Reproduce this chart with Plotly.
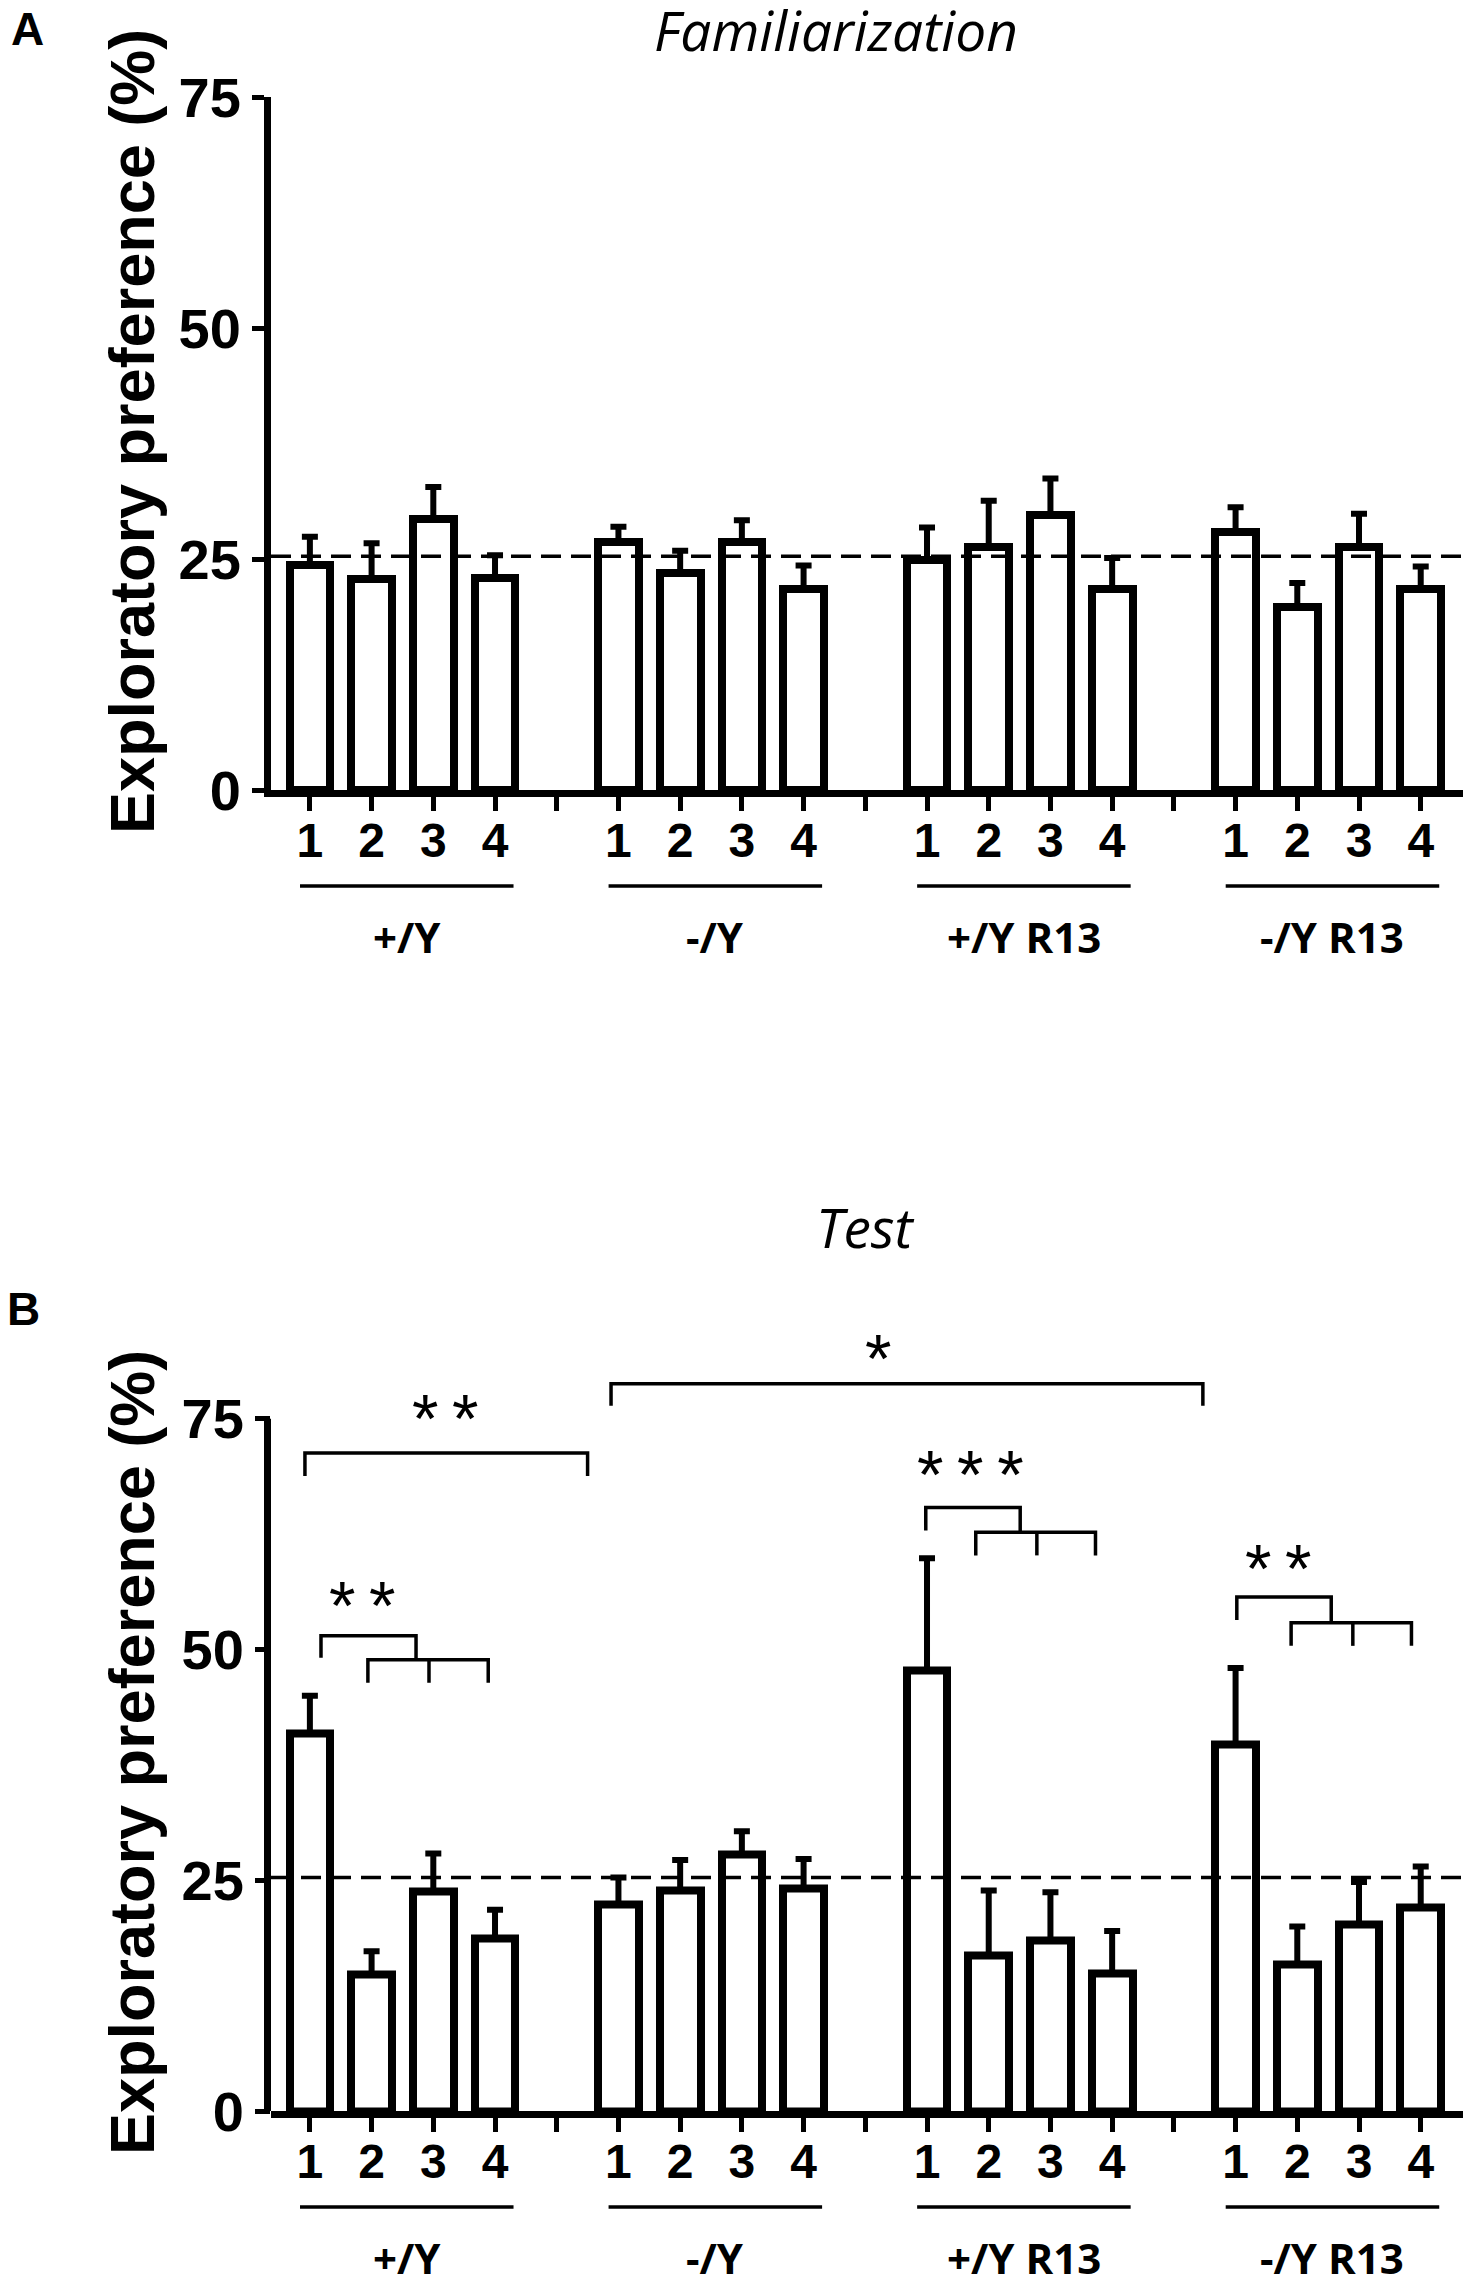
import plotly.graph_objects as go

# Exploratory preference per object (1-4) for each genotype group
groups = ["+/Y", "-/Y", "+/Y R13", "-/Y R13"]
objects = ["1", "2", "3", "4"]

fam_mean = [24.4, 22.8, 29.3, 22.9,
            26.8, 23.5, 26.8, 21.8,
            24.9, 26.3, 29.8, 21.8,
            27.9, 19.8, 26.3, 21.8]
fam_sem = [3.0, 3.9, 3.5, 2.5,
           1.7, 2.4, 2.4, 2.5,
           3.5, 5.0, 3.9, 3.3,
           2.7, 2.6, 3.6, 2.4]

test_mean = [40.9, 14.8, 23.8, 18.7,
             22.4, 23.9, 27.8, 24.1,
             47.7, 16.8, 18.5, 14.9,
             39.7, 15.9, 20.2, 22.1]
test_sem = [4.1, 2.5, 4.1, 3.1,
            2.9, 3.3, 2.5, 3.2,
            12.2, 7.1, 5.2, 4.6,
            8.3, 4.1, 4.6, 4.4]

chance = 25.3
y_ticks = [0, 25, 50, 75]

# significance brackets in panel B (x in slot units, y in %)
brackets = [
    [(-0.08, 68.8), (-0.08, 71.3), (4.5, 71.3), (4.5, 68.8)],
    [(4.88, 76.4), (4.88, 78.8), (14.47, 78.8), (14.47, 76.4)],
    [(0.18, 49.1), (0.18, 51.5), (1.72, 51.5), (1.72, 48.9)],
    [(0.94, 46.4), (0.94, 48.9), (2.89, 48.9), (2.89, 46.4)],
    [(1.93, 48.9), (1.93, 46.4)],
    [(9.98, 62.9), (9.98, 65.4), (11.51, 65.4), (11.51, 62.7)],
    [(10.79, 60.2), (10.79, 62.7), (12.73, 62.7), (12.73, 60.2)],
    [(11.78, 62.7), (11.78, 60.2)],
    [(15.02, 53.2), (15.02, 55.7), (16.55, 55.7), (16.55, 52.9)],
    [(15.9, 50.4), (15.9, 52.9), (17.85, 52.9), (17.85, 50.4)],
    [(16.9, 52.9), (16.9, 50.4)],
]
TS = "\u2009"  # thin space between asterisks
stars = [(TS.join("**"), 2.2, 75.8), ("*", 9.2, 82.4), (TS.join("**"), 0.86, 55.6),
         (TS.join("***"), 10.7, 69.8), (TS.join("**"), 15.7, 59.6)]

W, H = 1471, 2284
OFF = 8  # page body margin
BOLD = "Liberation Sans"

# bar slots: 4 objects per group, one empty slot between groups
xpos = [g * 5 + i for g in range(len(groups)) for i in range(len(objects))]
tickvals = list(range(len(groups) * 5 - 1))
ticktext = [objects[v % 5] if v % 5 < 4 else "" for v in tickvals]


def px(p):
    # pixel column -> paper fraction
    return (p - OFF) / W


def py(p):
    # pixel row -> paper fraction
    return 1 - (p - OFF) / H


x_dom = [px(271), px(1467)]
x_rng = [-0.63, 18.75]
dom_w = 1467 - 271

fig = go.Figure()

panels = [
    dict(mean=fam_mean, sem=fam_sem, xa="x", ya="y", zero=790, top=97, ymax=75),
    dict(mean=test_mean, sem=test_sem, xa="x2", ya="y2", zero=2111, top=1326.5, ymax=85),
]

for p in panels:
    fig.add_trace(go.Bar(
        x=xpos, y=p["mean"], width=0.66,
        marker=dict(color="white", line=dict(color="black", width=8)),
        error_y=dict(type="data", symmetric=False, array=p["sem"],
                     arrayminus=[0] * len(p["sem"]), color="black",
                     thickness=6, width=8),
        xaxis=p["xa"], yaxis=p["ya"], showlegend=False,
    ))

axis_common = dict(showgrid=False, zeroline=False, linecolor="black",
                   ticks="outside", tickcolor="black", automargin=False)

for k, p in enumerate(panels):
    sfx = "" if k == 0 else "2"
    fig.update_layout({
        "xaxis" + sfx: dict(
            axis_common, domain=x_dom, range=x_rng, anchor="y" + sfx,
            showline=True, linewidth=7, ticklen=14, tickwidth=5,
            tickvals=tickvals, ticktext=ticktext, ticklabelstandoff=-12,
            tickfont=dict(family=BOLD, size=48, color="black", weight="bold"),
        ),
        "yaxis" + sfx: dict(
            axis_common, domain=[py(p["zero"]), py(p["top"])],
            range=[0, p["ymax"]], anchor="x" + sfx,
            showline=(k == 0), linewidth=7, ticklen=12 if k == 0 else 15,
            tickwidth=5, tickvals=y_ticks,
            tickfont=dict(family=BOLD, size=56, color="black", weight="bold"),
        ),
    })

    # chance level
    fig.add_shape(type="line", xref=p["xa"] + " domain", yref=p["ya"],
                  x0=0, x1=1, y0=chance, y1=chance,
                  line=dict(color="black", width=3.5, dash="20px,10px"))

    # group underlines and labels
    for g, name in enumerate(groups):
        fig.add_shape(type="line", xref=p["xa"], yref="paper",
                      x0=g * 5 - 0.16, x1=g * 5 + 3.3,
                      y0=py(p["zero"] + 96), y1=py(p["zero"] + 96),
                      line=dict(color="black", width=3.5))
        fig.add_annotation(text=name, xref=p["xa"], yref="paper",
                           x=g * 5 + 1.57, y=py(p["zero"] + 146),
                           showarrow=False, xanchor="center", yanchor="middle",
                           font=dict(family="Open Sans", size=42, color="black",
                                     weight="bold"))

    # y axis title
    fig.add_annotation(text="Exploratory preference (%)", textangle=-90,
                       xref="paper", yref="paper", x=px(132),
                       y=py(p["zero"] - 358), showarrow=False,
                       xanchor="center", yanchor="middle",
                       font=dict(family=BOLD, size=63, color="black",
                                 weight="bold"))

# y axis line of panel B stops at 75
fig.add_shape(type="line", xref="x2 domain", yref="y2",
              x0=-3.5 / dom_w, x1=-3.5 / dom_w, y0=0, y1=75,
              line=dict(color="black", width=7))

for pts in brackets:
    path = "M " + " L ".join(f"{x},{y}" for x, y in pts)
    fig.add_shape(type="path", path=path, xref="x2", yref="y2",
                  line=dict(color="black", width=3.5))

for txt, x, y in stars:
    fig.add_annotation(text=txt, x=x, y=y, xref="x2", yref="y2",
                       showarrow=False, xanchor="center", yanchor="middle",
                       yshift=-7,
                       font=dict(family=BOLD, size=68, color="black"))

# panel letters and titles
for txt, x, y in [("A", 27, 29), ("B", 24, 1309)]:
    fig.add_annotation(text=txt, xref="paper", yref="paper", x=px(x), y=py(y),
                       showarrow=False, xanchor="center", yanchor="middle",
                       font=dict(family=BOLD, size=46, color="black",
                                 weight="bold"))
for txt, x, y in [("Familiarization", 836, 29), ("Test", 865, 1226)]:
    fig.add_annotation(text=txt, xref="paper", yref="paper", x=px(x), y=py(y),
                       showarrow=False, xanchor="center", yanchor="middle",
                       font=dict(family="Open Sans", size=55, color="black",
                                 style="italic"))

fig.update_layout(template="none", width=W, height=H,
                  margin=dict(l=0, r=0, t=0, b=0, pad=0),
                  plot_bgcolor="white", paper_bgcolor="white", bargap=0)

fig.write_html("out.html")
